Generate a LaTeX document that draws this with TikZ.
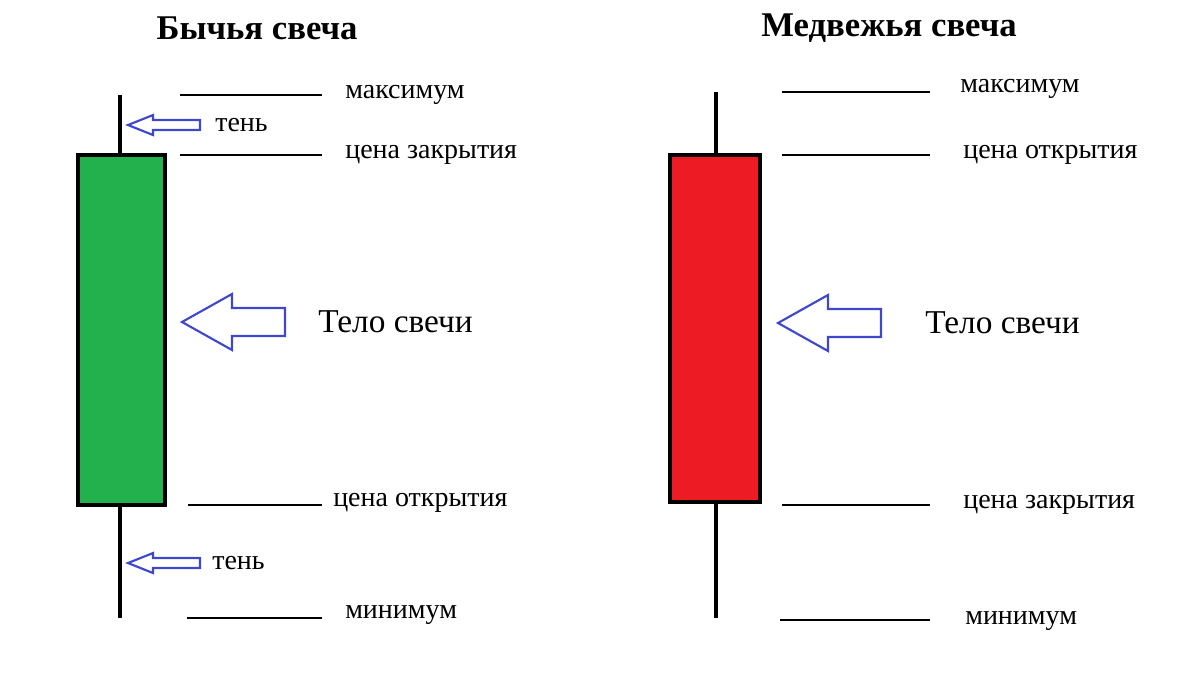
\documentclass[tikz,border=0pt]{standalone}
\usepackage{fontspec}
\setmainfont{Liberation Serif}
\begin{document}
\begin{tikzpicture}[x=0.75pt,y=-0.75pt,
  wick/.style={line width=3.2pt,black},
  body/.style={line width=3pt,draw=black},
  lvl/.style={line width=2pt,black},
  lbl/.style={anchor=west,font=\fontsize{21}{24}\selectfont,inner sep=0pt},
  big/.style={anchor=west,font=\fontsize{25}{28}\selectfont,inner sep=0pt},
  ttl/.style={font=\bfseries\fontsize{26}{30}\selectfont,inner sep=0pt},
  arr/.style={draw=blue!55!black!60!blue,draw={rgb,255:red,63;green,72;blue,204},line width=1.6pt,line join=miter},
  pics/bigarr/.style={code={\draw[arr] (0,0) -- (50,-28) -- (50,-14) -- (103,-14) -- (103,14) -- (50,14) -- (50,28) -- cycle;}},
  pics/smallarr/.style={code={\draw[arr] (0,0) -- (25,-10) -- (25,-5) -- (72,-5) -- (72,5) -- (25,5) -- (25,10) -- cycle;}}]
\useasboundingbox (0,0) rectangle (1200,693);
% titles
\node[ttl] (t1) at (257,28) {Бычья свеча};
\node[ttl] (t2) at (889,28) {Медвежья свеча};
% left candle
\coordinate (lw1) at (120,95); \coordinate (lw2) at (120,618);
\draw[wick] (lw1) -- (lw2);
\filldraw[body,fill={rgb,255:red,34;green,177;blue,76}] (78,155) rectangle (165,505);
\draw[lvl] (180,95) -- (322,95);
\draw[lvl] (180,155) -- (322,155);
\draw[lvl] (188,505) -- (322,505);
\draw[lvl] (187,618) -- (322,618);
\node[lbl] (l1) at (345,95) {максимум};
\node[lbl] (l2) at (345,155) {цена закрытия};
\node[lbl] (l3) at (333,503) {цена открытия};
\node[lbl] (l4) at (345,615) {минимум};
\pic at (128,125) {smallarr};
\node[lbl] (s1) at (215,125) {тень};
\pic at (128,563) {smallarr};
\node[lbl] (s2) at (212,563) {тень};
\pic at (182,322) {bigarr};
\node[big] (b1) at (318,322) {Тело свечи};
% right candle
\coordinate (rw1) at (716,92); \coordinate (rw2) at (716,618);
\draw[wick] (rw1) -- (rw2);
\filldraw[body,fill={rgb,255:red,237;green,28;blue,36}] (670,155) rectangle (760,502);
\draw[lvl] (782,92) -- (930,92);
\draw[lvl] (782,155) -- (930,155);
\draw[lvl] (782,505) -- (930,505);
\draw[lvl] (780,620) -- (930,620);
\node[lbl] (r1) at (960,89) {максимум};
\node[lbl] (r2) at (963,155) {цена открытия};
\node[lbl] (r3) at (963,505) {цена закрытия};
\node[lbl] (r4) at (965,621) {минимум};
\pic at (778,323) {bigarr};
\node[big] (b2) at (925,323) {Тело свечи};
\end{tikzpicture}
\end{document}
